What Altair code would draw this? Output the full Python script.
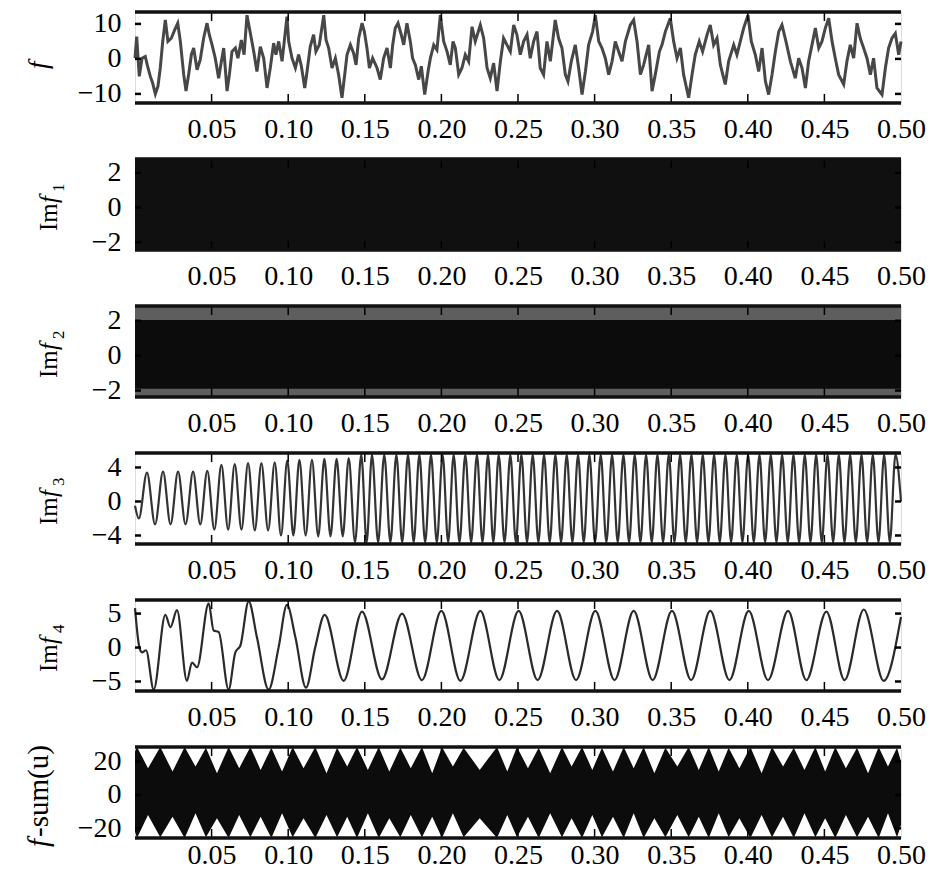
import altair as alt
import pandas as pd

# ---------------- data ----------------
X_TICKS = [0.05, 0.10, 0.15, 0.20, 0.25, 0.30, 0.35, 0.40, 0.45, 0.50]

# f : raw signal (times in s, values)
F_T = [0.0, 0.0011, 0.0028, 0.0046, 0.0067, 0.0085, 0.0100, 0.0115, 0.0133, 0.0150, 0.0165, 0.0181,
       0.0198, 0.0215, 0.0237, 0.0259, 0.0279, 0.0296, 0.0318, 0.0333, 0.0350, 0.0368, 0.0383, 0.0405,
       0.0426, 0.0448, 0.0470, 0.0485, 0.0503, 0.0524, 0.0546, 0.0564, 0.0579, 0.0601, 0.0616, 0.0633,
       0.0655, 0.0672, 0.0694, 0.0712, 0.0731, 0.0753, 0.0775, 0.0796, 0.0818, 0.0840, 0.0862, 0.0883,
       0.0905, 0.0920, 0.0938, 0.0960, 0.0992, 0.1003, 0.1025, 0.1047, 0.1068, 0.1086, 0.1108, 0.1123,
       0.1144, 0.1166, 0.1181, 0.1203, 0.1232, 0.1247, 0.1264, 0.1286, 0.1308, 0.1329, 0.1351, 0.1369,
       0.1384, 0.1406, 0.1427, 0.1443, 0.1460, 0.1482, 0.1497, 0.1514, 0.1530, 0.1551, 0.1580, 0.1601,
       0.1623, 0.1645, 0.1667, 0.1682, 0.1699, 0.1717, 0.1738, 0.1754, 0.1775, 0.1797, 0.1812, 0.1830,
       0.1852, 0.1869, 0.1891, 0.1913, 0.1928, 0.1950, 0.1971, 0.1993, 0.2015, 0.2037, 0.2058, 0.2076,
       0.2091, 0.2113, 0.2134, 0.2156, 0.2178, 0.2200, 0.2221, 0.2254, 0.2276, 0.2298, 0.2319, 0.2341,
       0.2363, 0.2385, 0.2406, 0.2428, 0.2450, 0.2472, 0.2493, 0.2515, 0.2537, 0.2559, 0.2580,
       0.2602, 0.2624, 0.2645, 0.2667, 0.2689, 0.2711, 0.2743, 0.2765, 0.2787, 0.2809, 0.2826, 0.2848,
       0.2874, 0.2896, 0.2918, 0.2940, 0.2961, 0.2987, 0.3005, 0.3027, 0.3048, 0.3070, 0.3092, 0.3114,
       0.3135, 0.3157, 0.3179, 0.3201, 0.3233, 0.3255, 0.3277, 0.3299, 0.3320, 0.3353, 0.3375, 0.3396,
       0.3423, 0.3440, 0.3462, 0.3494, 0.3516, 0.3538, 0.3560, 0.3581, 0.3614, 0.3636, 0.3657, 0.3683,
       0.3705, 0.3734, 0.3755, 0.3777, 0.3799, 0.3821, 0.3853, 0.3875, 0.3908, 0.3929, 0.3951, 0.3973,
       0.4001, 0.4023, 0.4049, 0.4071, 0.4093, 0.4115, 0.4136, 0.4158, 0.4180, 0.4202, 0.4223, 0.4249,
       0.4278, 0.4310, 0.4332, 0.4354, 0.4376, 0.4397, 0.4419, 0.4441, 0.4463, 0.4484, 0.4506, 0.4528,
       0.4550, 0.4571, 0.4593, 0.4626, 0.4647, 0.4669, 0.4691, 0.4713, 0.4734, 0.4756, 0.4778, 0.4800,
       0.4821, 0.4843, 0.4876, 0.4898, 0.4919, 0.4941, 0.4963, 0.4985, 0.5000]
F_V = [0.2, 6.4, -5.0, 0.2, 0.7, -2.6, -5.0, -6.9, -10.0, -7.8, -2.6, 5.0,
       11.1, 5.0, 5.9, 8.3, 10.2, 5.0, -4.5, -9.2, -4.5, 1.2, 3.1, -3.1,
       -0.2, 5.9, 10.2, 6.9, 4.0, 0.2, -5.5, -0.7, 3.1, -9.2, -4.5, 2.1,
       3.1, 0.2, 5.4, 1.2, 12.5, 7.3, 2.1, -3.6, 3.5, 0.2, -8.3, -2.6,
       4.5, 1.2, 5.0, -0.7, 12.1, 5.0, 0.2, -2.6, 1.2, -2.1, -8.3, -3.6,
       3.5, 6.9, 2.1, 4.0, 12.5, 5.4, 3.1, -2.6, 0.2, -4.5, -11.1, -4.5,
       1.2, 4.0, 1.6, -1.7, 5.9, 10.2, 7.8, 3.1, -2.6, 0.2, -2.6, -5.9,
       0.2, 3.1, -2.6, 4.0, 8.8, 10.2, 6.9, 4.0, 10.2, 5.0, 0.2, -1.7,
       -5.9, -2.1, -10.2, -3.6, 0.2, 4.0, 2.6, 12.5, 5.0, 2.1, -1.7, 5.0,
       3.1, -4.5, -2.6, 1.2, -0.7, 9.2, 5.0, 9.7, 5.9, -2.6, -5.5, -1.2,
       -9.2, -0.7, 5.9, 4.0, 2.1, 9.7, 6.9, 1.2, 5.0, 6.9, 0.2,
       5.0, 7.8, -2.6, -4.5, 5.0, -0.7, 11.1, 5.9, 3.1, -4.5, -6.4, -0.7,
       4.0, -2.6, -10.2, -3.6, 4.0, 7.8, 12.5, 5.0, 3.1, 0.2, -4.5, -0.7,
       5.0, 2.1, -0.7, 5.0, 9.7, 11.1, 5.0, -4.5, -1.7, 4.0, -9.2, -4.5,
       2.1, 4.0, 7.8, 11.6, 5.0, 0.2, 3.1, -4.5, -11.1, -4.5, 1.2, 5.0,
       2.1, 6.9, 9.7, 4.0, 5.9, -1.7, -7.3, -0.7, 4.0, 1.2, 5.0, 8.8,
       12.5, 5.0, 1.2, -3.6, 3.1, -6.4, -10.2, -4.5, 2.1, 7.8, 9.7, 5.0,
       -0.7, -5.5, 0.2, -2.6, -8.3, -0.7, 4.0, 8.8, 3.1, 5.0, 8.8, 11.6,
       5.0, 0.2, -4.5, -7.3, -0.7, 4.0, 0.2, 10.2, 5.9, 3.1, 0.2, -4.5,
       0.2, -8.3, -10.2, -2.6, 3.1, 5.9, 7.3, 1.2, 5.0]

# Imf1 : fully filled band (upper / lower extent)
IMF1_T = [0.0, 0.5]
IMF1_HI = [2.8, 2.8]
IMF1_LO = [-2.45, -2.45]

# Imf2 : outer (striped) extent and solid core
IMF2_T = [0.0, 0.5]
IMF2_HI = [2.8, 2.8]
IMF2_LO = [-2.35, -2.35]
IMF2_CORE_HI = [2.05, 2.05]
IMF2_CORE_LO = [-1.9, -1.9]

# Imf3 : peaks and troughs
IMF3_PEAK_T = [0.0078, 0.0183, 0.0281, 0.0379, 0.0472, 0.0564, 0.0651, 0.0738, 0.0825, 0.0912,
               0.0994, 0.1073, 0.1155, 0.1236, 0.1316, 0.1395, 0.1477, 0.1547, 0.1627, 0.1706,
               0.1782, 0.1856, 0.1932, 0.2008, 0.2080, 0.2156, 0.2232, 0.2304, 0.2374, 0.2450,
               0.2522, 0.2596, 0.2670, 0.2744, 0.2818, 0.2892, 0.2966, 0.3040, 0.3114, 0.3188,
               0.3262, 0.3336, 0.3410, 0.3484, 0.3558, 0.3632, 0.3706, 0.3780, 0.3854, 0.3928,
               0.4002, 0.4076, 0.4150, 0.4224, 0.4298, 0.4372, 0.4446, 0.4520, 0.4594, 0.4668,
               0.4742, 0.4816, 0.4890, 0.4964]
IMF3_PEAK_V = [3.4, 3.5, 3.5, 3.5, 3.6, 4.3, 4.4, 4.5, 4.5, 4.6,
               4.8, 4.9, 4.9, 5.0, 5.0, 5.1, 5.5, 5.5, 5.5, 5.5,
               5.5, 5.5, 5.5, 5.5, 5.5, 5.5, 5.5, 5.5, 5.5, 5.5,
               5.5, 5.5, 5.5, 5.5, 5.5, 5.5, 5.5, 5.5, 5.5, 5.5,
               5.5, 5.5, 5.5, 5.5, 5.5, 5.5, 5.5, 5.5, 5.5, 5.5,
               5.5, 5.5, 5.5, 5.5, 5.5, 5.5, 5.5, 5.5, 5.5, 5.5,
               5.5, 5.5, 5.5, 5.5]
IMF3_TROUGH_T = [0.0025, 0.0131, 0.0232, 0.0330, 0.0426, 0.0518, 0.0608, 0.0695, 0.0782, 0.0869,
                 0.0953, 0.1034, 0.1114, 0.1196, 0.1276, 0.1356, 0.1436, 0.1512, 0.1587, 0.1667,
                 0.1744, 0.1819, 0.1894, 0.1970, 0.2044, 0.2118, 0.2194, 0.2268, 0.2339, 0.2412,
                 0.2486, 0.2559, 0.2633, 0.2707, 0.2781, 0.2855, 0.2929, 0.3003, 0.3077, 0.3151,
                 0.3225, 0.3299, 0.3373, 0.3447, 0.3521, 0.3595, 0.3669, 0.3743, 0.3817, 0.3891,
                 0.3965, 0.4039, 0.4113, 0.4187, 0.4261, 0.4335, 0.4409, 0.4483, 0.4557, 0.4631,
                 0.4705, 0.4779, 0.4853, 0.4927]
IMF3_TROUGH_V = [-2.0, -2.7, -2.7, -2.7, -2.7, -3.3, -3.3, -3.3, -3.4, -3.4,
                 -4.0, -4.0, -4.0, -4.1, -4.1, -4.1, -4.8, -4.8, -4.8, -4.8,
                 -4.8, -4.8, -4.8, -4.8, -4.8, -4.8, -4.8, -4.8, -4.8, -4.8,
                 -4.8, -4.8, -4.8, -4.8, -4.8, -4.8, -4.8, -4.8, -4.8, -4.8,
                 -4.8, -4.8, -4.8, -4.8, -4.8, -4.8, -4.8, -4.8, -4.8, -4.8,
                 -4.8, -4.8, -4.8, -4.8, -4.8, -4.8, -4.8, -4.8, -4.8, -4.8,
                 -4.8, -4.8, -4.8, -4.8]

# Imf4 : extrema and shoulders
IMF4_T = [0.0, 0.0028, 0.0046, 0.0072, 0.0122, 0.0198, 0.0231, 0.0274, 0.0339, 0.0372, 0.0405,
          0.0481, 0.0513, 0.0546, 0.0611, 0.0655, 0.0688, 0.0742, 0.0796, 0.0872, 0.0938, 0.0992,
          0.1047, 0.1116, 0.1177, 0.1238, 0.1362, 0.1482, 0.1612, 0.1743, 0.1873, 0.2000, 0.2124,
          0.2254, 0.2378, 0.2504, 0.2628, 0.2755, 0.2879, 0.3005, 0.3130, 0.3255, 0.3379, 0.3505,
          0.3630, 0.3755, 0.3880, 0.4006, 0.4132, 0.4263, 0.4382, 0.4513, 0.4632, 0.4757, 0.4887,
          0.5000]
IMF4_V = [5.8, 0.1, -0.7, -0.4, -6.2, 4.8, 3.0, 5.5, -4.9, -2.2, -2.9,
          6.5, 2.5, 2.3, -6.2, -0.7, 0.3, 6.8, 1.5, -6.2, 0.1, 6.3,
          1.5, -5.9, 0.1, 4.8, -4.9, 5.3, -4.7, 5.0, -4.8, 5.4, -4.9,
          5.4, -4.8, 5.4, -4.8, 5.4, -4.8, 5.4, -4.8, 5.4, -4.8, 5.4,
          -4.8, 5.4, -4.8, 5.4, -4.8, 5.4, -4.8, 5.3, -4.8, 5.6, -4.9,
          4.5]

# f - sum(u) : upper and lower envelope of the dense residual (same time grid)
FS_T = [0.0, 0.0013, 0.0085, 0.0165, 0.0245, 0.0324, 0.0395, 0.0463, 0.0535, 0.0611, 0.0680,
        0.0753, 0.0820, 0.0890, 0.0960, 0.1029, 0.1100, 0.1177, 0.1250, 0.1319, 0.1385, 0.1449,
        0.1520, 0.1591, 0.1660, 0.1732, 0.1800, 0.1873, 0.1940, 0.2004, 0.2075, 0.2145, 0.2250,
        0.2363, 0.2430, 0.2493, 0.2565, 0.2635, 0.2710, 0.2787, 0.2850, 0.2918, 0.2985, 0.3048,
        0.3120, 0.3190, 0.3255, 0.3320, 0.3390, 0.3462, 0.3540, 0.3614, 0.3680, 0.3745, 0.3810,
        0.3875, 0.3945, 0.4017, 0.4090, 0.4158, 0.4230, 0.4300, 0.4370, 0.4441, 0.4505, 0.4571,
        0.4640, 0.4713, 0.4785, 0.4854, 0.4915, 0.4974, 0.5000]
FS_UP_V = [26, 28.7, 16, 28.7, 14, 28.7, 17, 28.2, 13, 28.7, 16,
           28.7, 15, 28.2, 14, 28.7, 16, 28.7, 13, 28.2, 17, 28.7,
           15, 28.7, 14, 28.2, 16, 28.7, 13, 28.7, 17, 28.2, 15,
           28.7, 14, 28.7, 16, 28.2, 13, 28.7, 17, 28.7, 15, 28.2,
           14, 28.7, 16, 28.7, 13, 28.2, 17, 28.7, 15, 28.7, 14,
           28.2, 16, 28.7, 13, 28.7, 17, 28.2, 15, 28.7, 14, 28.7,
           16, 28.2, 13, 28.7, 17, 28.2, 20]
FS_LO_V = [-22, -25.8, -12, -25.3, -13, -25.8, -11, -25.3, -14, -25.8, -12,
           -25.3, -13, -25.8, -11, -25.3, -14, -25.8, -12, -25.3, -13, -25.8,
           -11, -25.8, -14, -25.3, -12, -25.3, -13, -25.8, -11, -25.3, -14,
           -25.8, -12, -25.3, -13, -25.8, -11, -25.3, -14, -25.8, -12, -25.3,
           -13, -25.8, -11, -25.8, -14, -25.3, -12, -25.3, -13, -25.8, -11,
           -25.3, -14, -25.8, -12, -25.3, -13, -25.8, -11, -25.3, -14, -25.8,
           -12, -25.3, -13, -25.8, -11, -25.3, -18]

# ---------------- layout / style ----------------
W, H = 766, 91
FONT = "Liberation Serif"
LABEL_SIZE = 28
TITLE_SIZE = 25
SUB_SIZE = 17


def xenc(pad):
    return alt.X("t:Q", scale=alt.Scale(domain=[0, 0.5], nice=False, zero=False),
                 axis=alt.Axis(values=X_TICKS, format=".2f", ticks=False, domain=False, grid=False,
                               labelFont=FONT, labelFontSize=LABEL_SIZE, labelColor="black",
                               labelPadding=pad, labelFlush=False, labelOverlap=False, title=None))


def yenc(domain, ticks):
    return alt.Y("v:Q", scale=alt.Scale(domain=domain, nice=False, zero=False),
                 axis=alt.Axis(values=ticks, format="d", ticks=False, domain=False, grid=False,
                               labelFont=FONT, labelFontSize=LABEL_SIZE, labelColor="black",
                               labelPadding=14, title=None))


def frame_layers(yticks):
    one = pd.DataFrame({"k": [0]})
    tk = pd.DataFrame({"t": X_TICKS[:-1]})
    yt = pd.DataFrame({"v": yticks})
    layers = []
    layers.append(alt.Chart(tk).mark_rule(color="black", strokeWidth=1.5).encode(
        x="t:Q", y=alt.value(0), y2=alt.value(9)))
    layers.append(alt.Chart(tk).mark_rule(color="black", strokeWidth=1.5).encode(
        x="t:Q", y=alt.value(H - 9), y2=alt.value(H)))
    layers.append(alt.Chart(yt).mark_rule(color="black", strokeWidth=2.5).encode(
        y="v:Q", x=alt.value(0), x2=alt.value(6)))
    layers.append(alt.Chart(yt).mark_rule(color="black", strokeWidth=2.5).encode(
        y="v:Q", x=alt.value(W - 6), x2=alt.value(W)))
    layers.append(alt.Chart(one).mark_rule(color="#111", strokeWidth=3.5).encode(
        x=alt.value(0), x2=alt.value(W), y=alt.value(0)))
    layers.append(alt.Chart(one).mark_rule(color="#111", strokeWidth=3.5).encode(
        x=alt.value(0), x2=alt.value(W), y=alt.value(H)))
    return layers


def title_layers(parts):
    one = pd.DataFrame({"k": [0]})
    out = []
    for txt, style, size, dx, dy in parts:
        out.append(alt.Chart(one).mark_text(
            text=txt, font=FONT, fontSize=size, fontStyle=style, angle=270,
            align="left", baseline="alphabetic", color="black").encode(
            x=alt.value(dx), y=alt.value(dy)))
    return out


def imf_title(k, dx):
    return [("Im", "normal", TITLE_SIZE, dx, 72),
            ("f", "italic", TITLE_SIZE, dx, 44),
            (str(k), "normal", SUB_SIZE, dx + 7, 33)]


def panel(data_layers, domain, yticks, tparts, pad=12):
    enc_layers = [l.encode(x=xenc(pad), y=yenc(domain, yticks)) for l in data_layers]
    layers = enc_layers + frame_layers(yticks) + title_layers(tparts)
    return alt.layer(*layers).properties(width=W, height=H)


# panel 1 : f
df_f = pd.DataFrame({"t": F_T, "v": F_V})
p1 = panel([alt.Chart(df_f).mark_line(color="#474747", strokeWidth=3)],
           [-12.6, 13.4], [-10, 0, 10],
           [("f", "italic", 27, -88, 57)])

# panel 2 : Imf1
df_1 = pd.DataFrame({"t": IMF1_T, "v": IMF1_HI, "lo": IMF1_LO})
p2 = panel([alt.Chart(df_1).mark_area(color="#101010").encode(y2="lo:Q")],
           [-2.45, 2.8], [-2, 0, 2], imf_title(1, -78))

# panel 3 : Imf2
df_2o = pd.DataFrame({"t": IMF2_T, "v": IMF2_HI, "lo": IMF2_LO})
df_2c = pd.DataFrame({"t": IMF2_T, "v": IMF2_CORE_HI, "lo": IMF2_CORE_LO})
p3 = panel([alt.Chart(df_2o).mark_area(color="#5e5e5e").encode(y2="lo:Q"),
            alt.Chart(df_2c).mark_area(color="#0c0c0c").encode(y2="lo:Q")],
           [-2.37, 2.85], [-2, 0, 2], imf_title(2, -78))

# panel 4 : Imf3
df_3 = pd.DataFrame({"t": IMF3_PEAK_T + IMF3_TROUGH_T + [0.0, 0.5],
                     "v": IMF3_PEAK_V + IMF3_TROUGH_V + [-0.5, 0.0]}).sort_values("t")
p4 = panel([alt.Chart(df_3).mark_line(color="#333", strokeWidth=2.2, interpolate="monotone")],
           [-5.0, 5.7], [-4, 0, 4], imf_title(3, -78))

# panel 5 : Imf4
df_4 = pd.DataFrame({"t": IMF4_T, "v": IMF4_V})
p5 = panel([alt.Chart(df_4).mark_line(color="#2a2a2a", strokeWidth=2.2, interpolate="monotone")],
           [-6.4, 7.0], [-5, 0, 5], imf_title(4, -78))

# panel 6 : f - sum(u)
df_fs = pd.DataFrame({"t": FS_T, "v": FS_UP_V, "lo": FS_LO_V})
p6 = panel([alt.Chart(df_fs).mark_area(color="#0c0c0c").encode(y2="lo:Q")],
           [-25.8, 28.7], [-20, 0, 20],
           [("f", "italic", 29, -87, 100),
            ("-sum(u)", "normal", 29, -87, 90)], pad=3)

chart = alt.vconcat(p1, p2, p3, p4, p5, p6, spacing=56, bounds="flush").properties(
    padding={"left": 16, "top": 0, "right": 0, "bottom": 0}
).configure_view(stroke="#777", strokeWidth=1.5).configure(background="white")

chart.save("out.html", embed_options={"renderer": "svg", "actions": False})
